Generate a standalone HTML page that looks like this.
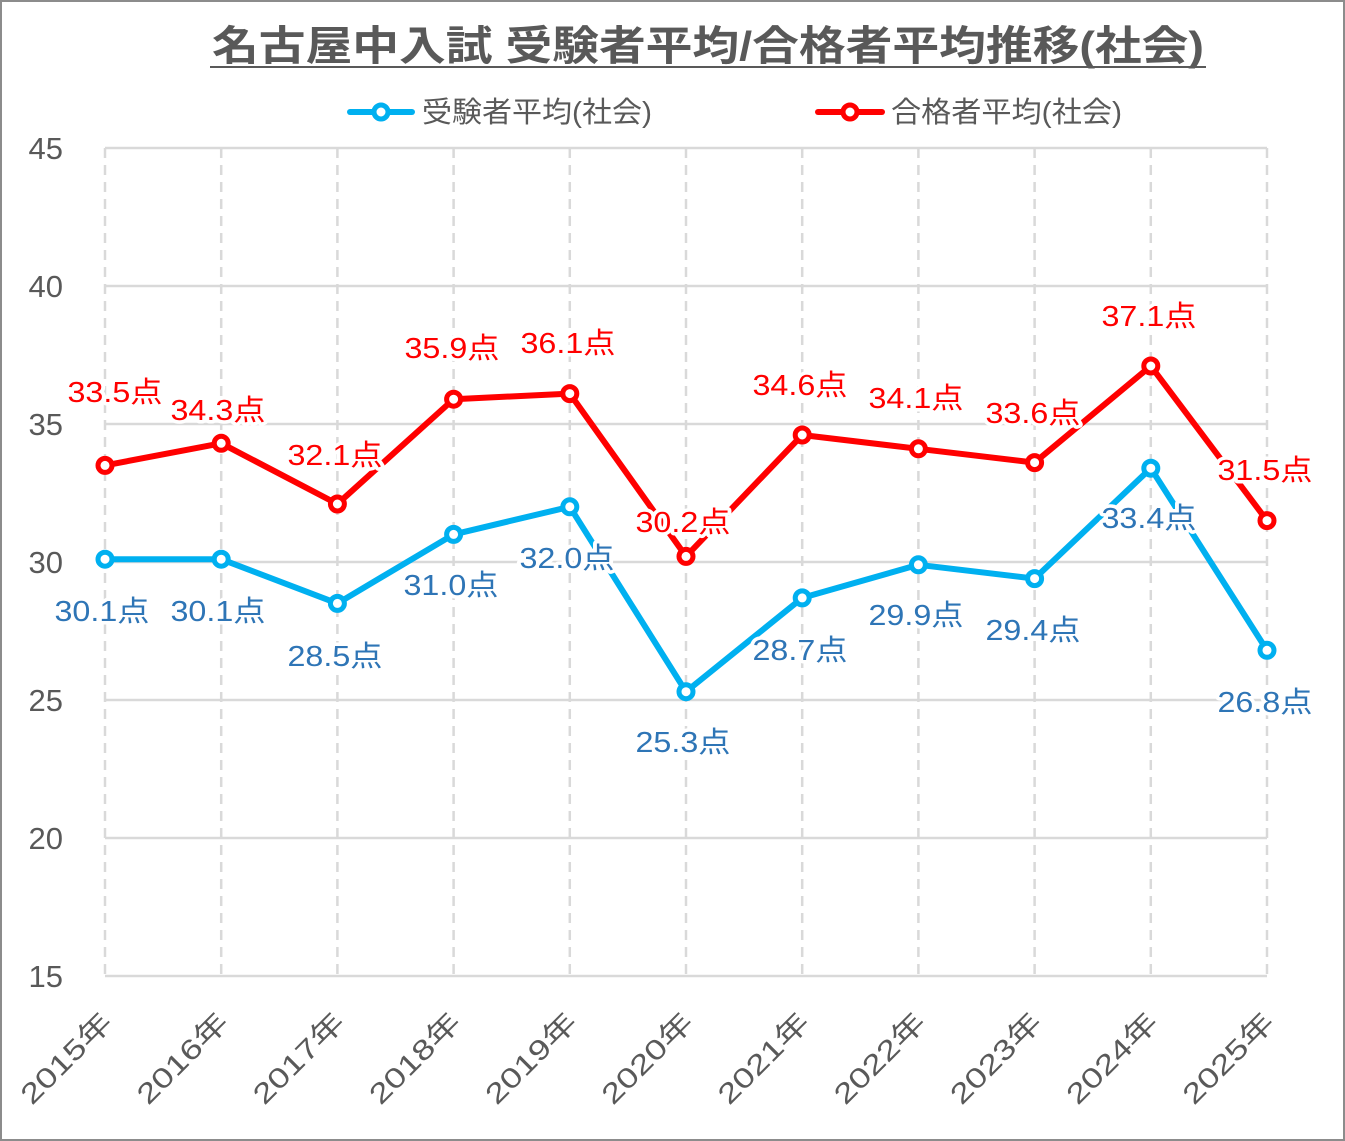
<!DOCTYPE html>
<html><head><meta charset="utf-8"><style>
html,body{margin:0;padding:0;background:#fff}
svg{display:block;font-family:"Liberation Sans","Noto Sans CJK JP",sans-serif}
.lb{font-size:29px;paint-order:stroke;stroke:#fff;stroke-width:7px;stroke-linejoin:round}
.ax{font-size:31px;fill:#595959}
.xl{font-size:28px;fill:#595959}
</style></head><body>
<svg width="1345" height="1141" viewBox="0 0 1345 1141">
<rect x="1" y="1" width="1343" height="1139" fill="#fff" stroke="#8c8c8c" stroke-width="2"/>
<text x="212" y="60" font-size="41" font-weight="bold" fill="#595959" textLength="992" lengthAdjust="spacingAndGlyphs">名古屋中入試 受験者平均/合格者平均推移(社会)</text>
<line x1="210" y1="67" x2="1206" y2="67" stroke="#595959" stroke-width="2"/>
<line x1="350" y1="112" x2="412" y2="112" stroke="#00b0f0" stroke-width="6" stroke-linecap="round"/>
<circle cx="381" cy="112" r="7" fill="#fff" stroke="#00b0f0" stroke-width="5"/>
<text x="422" y="122" font-size="29" fill="#595959" textLength="230" lengthAdjust="spacingAndGlyphs">受験者平均(社会)</text>
<line x1="818" y1="112" x2="882" y2="112" stroke="#ff0000" stroke-width="6" stroke-linecap="round"/>
<circle cx="850" cy="112" r="7" fill="#fff" stroke="#ff0000" stroke-width="5"/>
<text x="891" y="122" font-size="29" fill="#595959" textLength="231" lengthAdjust="spacingAndGlyphs">合格者平均(社会)</text>
<g stroke="#d9d9d9" stroke-width="2.5">
<line x1="105" y1="148" x2="1267" y2="148"/><line x1="105" y1="286" x2="1267" y2="286"/>
<line x1="105" y1="424" x2="1267" y2="424"/><line x1="105" y1="562" x2="1267" y2="562"/>
<line x1="105" y1="700" x2="1267" y2="700"/><line x1="105" y1="838" x2="1267" y2="838"/>
<line x1="105" y1="976" x2="1267" y2="976"/>
</g>
<g stroke="#d9d9d9" stroke-width="2.5" stroke-dasharray="10,7">
<line x1="105" y1="148" x2="105" y2="976"/><line x1="221.2" y1="148" x2="221.2" y2="976"/>
<line x1="337.4" y1="148" x2="337.4" y2="976"/><line x1="453.6" y1="148" x2="453.6" y2="976"/>
<line x1="569.8" y1="148" x2="569.8" y2="976"/><line x1="686" y1="148" x2="686" y2="976"/>
<line x1="802.2" y1="148" x2="802.2" y2="976"/><line x1="918.4" y1="148" x2="918.4" y2="976"/>
<line x1="1034.6" y1="148" x2="1034.6" y2="976"/><line x1="1150.8" y1="148" x2="1150.8" y2="976"/>
<line x1="1267" y1="148" x2="1267" y2="976"/>
</g>
<g class="ax" text-anchor="end">
<text x="63" y="159">45</text><text x="63" y="297">40</text><text x="63" y="435">35</text>
<text x="63" y="573">30</text><text x="63" y="711">25</text><text x="63" y="849">20</text><text x="63" y="987">15</text>
</g>
<g class="xl" text-anchor="end">
<text transform="translate(114,1024) rotate(-45)" textLength="116" lengthAdjust="spacingAndGlyphs">2015年</text>
<text transform="translate(230.2,1024) rotate(-45)" textLength="116" lengthAdjust="spacingAndGlyphs">2016年</text>
<text transform="translate(346.4,1024) rotate(-45)" textLength="116" lengthAdjust="spacingAndGlyphs">2017年</text>
<text transform="translate(462.6,1024) rotate(-45)" textLength="116" lengthAdjust="spacingAndGlyphs">2018年</text>
<text transform="translate(578.8,1024) rotate(-45)" textLength="116" lengthAdjust="spacingAndGlyphs">2019年</text>
<text transform="translate(695,1024) rotate(-45)" textLength="116" lengthAdjust="spacingAndGlyphs">2020年</text>
<text transform="translate(811.2,1024) rotate(-45)" textLength="116" lengthAdjust="spacingAndGlyphs">2021年</text>
<text transform="translate(927.4,1024) rotate(-45)" textLength="116" lengthAdjust="spacingAndGlyphs">2022年</text>
<text transform="translate(1043.6,1024) rotate(-45)" textLength="116" lengthAdjust="spacingAndGlyphs">2023年</text>
<text transform="translate(1159.8,1024) rotate(-45)" textLength="116" lengthAdjust="spacingAndGlyphs">2024年</text>
<text transform="translate(1276,1024) rotate(-45)" textLength="116" lengthAdjust="spacingAndGlyphs">2025年</text>
</g>
<polyline fill="none" stroke="#00b0f0" stroke-width="6" stroke-linejoin="round" points="105,559.2 221.2,559.2 337.4,603.4 453.6,534.4 569.8,506.8 686,691.7 802.2,597.9 918.4,564.8 1034.6,578.6 1150.8,468.2 1267,650.3"/>
<polyline fill="none" stroke="#ff0000" stroke-width="6" stroke-linejoin="round" points="105,465.4 221.2,443.3 337.4,504 453.6,399.2 569.8,393.6 686,556.4 802.2,435 918.4,448.8 1034.6,462.6 1150.8,366 1267,520.6"/>
<g class="lb" fill="#2e75b6" text-anchor="middle">
<text x="102" y="621" textLength="95" lengthAdjust="spacingAndGlyphs">30.1点</text><text x="218" y="621" textLength="95" lengthAdjust="spacingAndGlyphs">30.1点</text><text x="335" y="666" textLength="95" lengthAdjust="spacingAndGlyphs">28.5点</text>
<text x="451" y="595" textLength="95" lengthAdjust="spacingAndGlyphs">31.0点</text><text x="567" y="568" textLength="95" lengthAdjust="spacingAndGlyphs">32.0点</text><text x="683" y="752" textLength="95" lengthAdjust="spacingAndGlyphs">25.3点</text>
<text x="800" y="660" textLength="95" lengthAdjust="spacingAndGlyphs">28.7点</text><text x="916" y="625" textLength="95" lengthAdjust="spacingAndGlyphs">29.9点</text><text x="1033" y="640" textLength="95" lengthAdjust="spacingAndGlyphs">29.4点</text>
<text x="1149" y="528" textLength="95" lengthAdjust="spacingAndGlyphs">33.4点</text><text x="1265" y="712" textLength="95" lengthAdjust="spacingAndGlyphs">26.8点</text>
</g>
<g class="lb" fill="#ff0000" text-anchor="middle">
<text x="115" y="402" textLength="95" lengthAdjust="spacingAndGlyphs">33.5点</text><text x="218" y="420" textLength="95" lengthAdjust="spacingAndGlyphs">34.3点</text><text x="335" y="465" textLength="95" lengthAdjust="spacingAndGlyphs">32.1点</text>
<text x="452" y="358" textLength="95" lengthAdjust="spacingAndGlyphs">35.9点</text><text x="568" y="353" textLength="95" lengthAdjust="spacingAndGlyphs">36.1点</text><text x="683" y="532" textLength="95" lengthAdjust="spacingAndGlyphs">30.2点</text>
<text x="800" y="395" textLength="95" lengthAdjust="spacingAndGlyphs">34.6点</text><text x="916" y="408" textLength="95" lengthAdjust="spacingAndGlyphs">34.1点</text><text x="1033" y="423" textLength="95" lengthAdjust="spacingAndGlyphs">33.6点</text>
<text x="1149" y="326" textLength="95" lengthAdjust="spacingAndGlyphs">37.1点</text><text x="1265" y="480" textLength="95" lengthAdjust="spacingAndGlyphs">31.5点</text>
</g>
<g fill="#fff" stroke="#00b0f0" stroke-width="5">
<circle cx="105" cy="559.2" r="7"/><circle cx="221.2" cy="559.2" r="7"/><circle cx="337.4" cy="603.4" r="7"/>
<circle cx="453.6" cy="534.4" r="7"/><circle cx="569.8" cy="506.8" r="7"/><circle cx="686" cy="691.7" r="7"/>
<circle cx="802.2" cy="597.9" r="7"/><circle cx="918.4" cy="564.8" r="7"/><circle cx="1034.6" cy="578.6" r="7"/>
<circle cx="1150.8" cy="468.2" r="7"/><circle cx="1267" cy="650.3" r="7"/>
</g>
<g fill="#fff" stroke="#ff0000" stroke-width="5">
<circle cx="105" cy="465.4" r="7"/><circle cx="221.2" cy="443.3" r="7"/><circle cx="337.4" cy="504" r="7"/>
<circle cx="453.6" cy="399.2" r="7"/><circle cx="569.8" cy="393.6" r="7"/><circle cx="686" cy="556.4" r="7"/>
<circle cx="802.2" cy="435" r="7"/><circle cx="918.4" cy="448.8" r="7"/><circle cx="1034.6" cy="462.6" r="7"/>
<circle cx="1150.8" cy="366" r="7"/><circle cx="1267" cy="520.6" r="7"/>
</g>
</svg>
</body></html>
